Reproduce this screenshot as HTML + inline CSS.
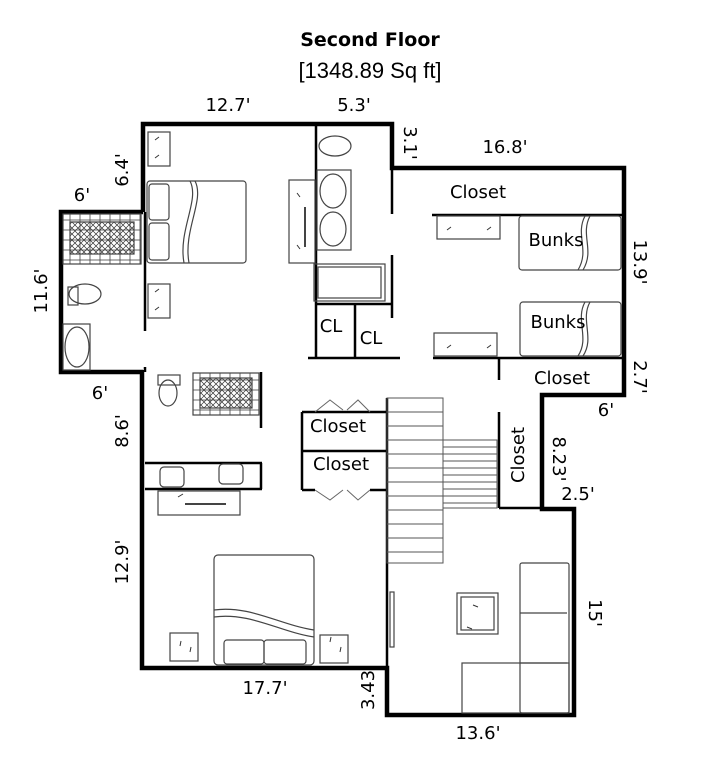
<!DOCTYPE html>
<html><head><meta charset="utf-8"><style>
html,body{margin:0;padding:0;background:#fff;}
svg{display:block;}
text{font-family:"DejaVu Sans","Liberation Sans",sans-serif;font-size:18px;fill:#000;}
</style></head><body>
<svg width="721" height="768" viewBox="0 0 721 768" xmlns="http://www.w3.org/2000/svg">
<defs>
<pattern id="hx" width="6" height="6" patternUnits="userSpaceOnUse"><path d="M0 0L6 6M6 0L0 6" stroke="#333" stroke-width="0.7"/></pattern>
<pattern id="tile" width="10" height="10" patternUnits="userSpaceOnUse"><rect width="10" height="10" fill="#fff" stroke="#444" stroke-width="0.8"/></pattern>
</defs>
<text x="370" y="46" text-anchor="middle" style="font-family:'DejaVu Sans',sans-serif;font-weight:bold;font-size:19px">Second Floor</text>
<text x="370" y="78" text-anchor="middle" style="font-family:'Liberation Sans',sans-serif;font-size:22px">[1348.89 Sq ft]</text>

<!-- outer walls -->
<g fill="none" stroke="#000" stroke-width="4.5" stroke-linejoin="miter">
<polyline points="143,212 143,124 392,124 392,168 624,168 624,395 542,395 542,509 574,509 574,715 387,715 387,668 142,668 142,370"/>
<polyline points="143,212 61,212 61,372 143,372"/>
</g>
<!-- interior walls -->
<g fill="none" stroke="#000" stroke-width="2.5">
<line x1="145" y1="212" x2="145" y2="331"/>
<line x1="145" y1="367" x2="145" y2="372"/>
<line x1="316" y1="124" x2="316" y2="358"/>
<line x1="392" y1="168" x2="392" y2="214"/>
<line x1="392" y1="255" x2="392" y2="318"/>
<line x1="316" y1="304" x2="392" y2="304"/>
<line x1="355" y1="304" x2="355" y2="358"/>
<line x1="308" y1="358" x2="400" y2="358"/>
<line x1="432" y1="215" x2="624" y2="215"/>
<line x1="433" y1="358" x2="624" y2="358"/>
<line x1="499" y1="358" x2="499" y2="380"/>
<line x1="261" y1="372" x2="261" y2="428"/>
<line x1="145" y1="463" x2="262" y2="463"/>
<line x1="145" y1="489" x2="262" y2="489"/>
<line x1="261" y1="463" x2="261" y2="489"/>
<line x1="387" y1="398" x2="387" y2="668"/>
<line x1="302" y1="412" x2="387" y2="412"/>
<line x1="302" y1="451" x2="387" y2="451"/>
<line x1="302" y1="412" x2="302" y2="490"/>
<line x1="302" y1="490" x2="315" y2="490"/>
<line x1="370" y1="490" x2="387" y2="490"/>
<line x1="499" y1="412" x2="499" y2="508"/>
<line x1="499" y1="508" x2="542" y2="508"/>
</g>
<!-- stairs -->
<g fill="none" stroke="#555" stroke-width="1">
<rect x="387" y="398" width="56" height="165"/>
<path d="M387 412H443M387 426H443M387 440H443M387 454H443M387 468H443M387 482H443M387 496H443M387 510H443M387 524H443M387 538H443M387 552H443"/>
<rect x="443" y="440" width="54" height="68"/>
<path d="M443 447H497M443 454H497M443 461H497M443 468H497M443 475H497M443 482H497M443 489H497M443 496H497M443 503H497"/>
</g>
<!-- door swings -->
<g fill="none" stroke="#666" stroke-width="1">
<path d="M315 412L330 400L343 410M347 410L358 400L370 412"/>
<path d="M315 490L330 500L343 490M347 490L358 500L370 490"/>
</g>
<!-- furniture -->
<g fill="none" stroke="#444" stroke-width="1.2">
<rect x="148" y="132" width="22" height="34"/>
<rect x="148" y="284" width="22" height="34"/>
<rect x="147" y="181" width="99" height="82" rx="3"/>
<rect x="149" y="184" width="20" height="36" rx="3"/>
<rect x="149" y="223" width="20" height="37" rx="3"/>
<path d="M190 181C200 200 178 230 184 263M195 181C205 200 183 230 189 263"/>
<rect x="289" y="180" width="26" height="83"/>
<line x1="305" y1="207" x2="305" y2="247" stroke-width="2"/>
<ellipse cx="335" cy="146" rx="16" ry="10"/>
<rect x="317" y="170" width="34" height="80"/>
<ellipse cx="333" cy="191" rx="13" ry="17"/>
<ellipse cx="333" cy="229" rx="13" ry="17"/>
<rect x="314" y="264" width="71" height="37"/>
<rect x="318" y="267" width="63" height="31"/>
<rect x="63" y="214" width="78" height="50" fill="url(#tile)"/>
<rect x="70" y="222" width="64" height="32" fill="url(#hx)"/>
<ellipse cx="85" cy="294" rx="16" ry="10"/>
<rect x="68" y="287" width="10" height="18"/>
<rect x="63" y="324" width="27" height="46"/>
<ellipse cx="77" cy="347" rx="12" ry="20"/>
<rect x="437" y="216" width="63" height="23"/>
<rect x="434" y="333" width="63" height="23"/>
<rect x="519" y="216" width="102" height="54" rx="3"/>
<rect x="520" y="302" width="101" height="54" rx="3"/>
<path d="M585 216C575 235 590 250 578 270M590 216C580 235 595 250 583 270"/>
<path d="M585 302C575 320 590 338 578 356M590 302C580 320 595 338 583 356"/>
<ellipse cx="168" cy="393" rx="9" ry="13"/>
<rect x="158" y="375" width="22" height="10"/>
<rect x="193" y="373" width="66" height="42" fill="url(#tile)"/>
<rect x="200" y="378" width="52" height="30" fill="url(#hx)"/>
<rect x="160" y="467" width="24" height="20" rx="4"/>
<rect x="219" y="464" width="24" height="20" rx="4"/>
<rect x="158" y="491" width="82" height="24"/>
<line x1="185" y1="504" x2="226" y2="504" stroke-width="2"/>
<rect x="214" y="555" width="100" height="110" rx="4"/>
<rect x="224" y="640" width="40" height="24" rx="3"/>
<rect x="264" y="640" width="42" height="24" rx="3"/>
<path d="M214 610C250 605 280 625 314 630M214 617C250 612 280 632 314 637"/>
<rect x="170" y="633" width="28" height="28"/>
<rect x="320" y="635" width="28" height="28"/>
<rect x="390" y="592" width="4" height="55"/>
<rect x="457" y="593" width="41" height="41"/>
<rect x="461" y="597" width="33" height="33"/>
<rect x="520" y="563" width="49" height="150" rx="2"/>
<path d="M520 613H567M520 663H567"/>
<rect x="462" y="663" width="107" height="50"/>
</g>
<g stroke="#333" stroke-width="1">
<path d="M155 140l4-3M155 158l4-3M155 292l4-3M155 310l4-3M447 230l4-3M487 230l4-3M447 348l4-3M487 348l4-3M180 646l1-5M190 652l1-5M330 642l1-5M340 652l1-5M473 605l5 2M467 627l5 2M297 193l3 4M297 245l3 4M178 497l5-3"/>
</g>

<text x="228" y="111" text-anchor="middle">12.7'</text>
<text x="354" y="111" text-anchor="middle">5.3'</text>
<text x="505" y="153" text-anchor="middle">16.8'</text>
<text x="82" y="201" text-anchor="middle">6'</text>
<text x="478" y="198" text-anchor="middle">Closet</text>
<text x="556" y="246" text-anchor="middle">Bunks</text>
<text x="558" y="328" text-anchor="middle">Bunks</text>
<text x="562" y="384" text-anchor="middle">Closet</text>
<text x="606" y="416" text-anchor="middle">6'</text>
<text x="100" y="399" text-anchor="middle">6'</text>
<text x="331" y="332" text-anchor="middle">CL</text>
<text x="371" y="344" text-anchor="middle">CL</text>
<text x="338" y="432" text-anchor="middle">Closet</text>
<text x="341" y="470" text-anchor="middle">Closet</text>
<text x="578" y="500" text-anchor="middle">2.5'</text>
<text x="265" y="694" text-anchor="middle">17.7'</text>
<text x="478" y="739" text-anchor="middle">13.6'</text>
<text transform="translate(128,170) rotate(-90)" text-anchor="middle">6.4'</text>
<text transform="translate(47,291) rotate(-90)" text-anchor="middle">11.6'</text>
<text transform="translate(128,431) rotate(-90)" text-anchor="middle">8.6'</text>
<text transform="translate(128,562) rotate(-90)" text-anchor="middle">12.9'</text>
<text transform="translate(374,690) rotate(-90)" text-anchor="middle">3.43</text>
<text transform="translate(524,455) rotate(-90)" text-anchor="middle">Closet</text>
<text transform="translate(404,143) rotate(90)" text-anchor="middle">3.1'</text>
<text transform="translate(634,262) rotate(90)" text-anchor="middle">13.9'</text>
<text transform="translate(634,377) rotate(90)" text-anchor="middle">2.7'</text>
<text transform="translate(553,459) rotate(90)" text-anchor="middle">8.23'</text>
<text transform="translate(589,613) rotate(90)" text-anchor="middle">15'</text>
</svg>
</body></html>
